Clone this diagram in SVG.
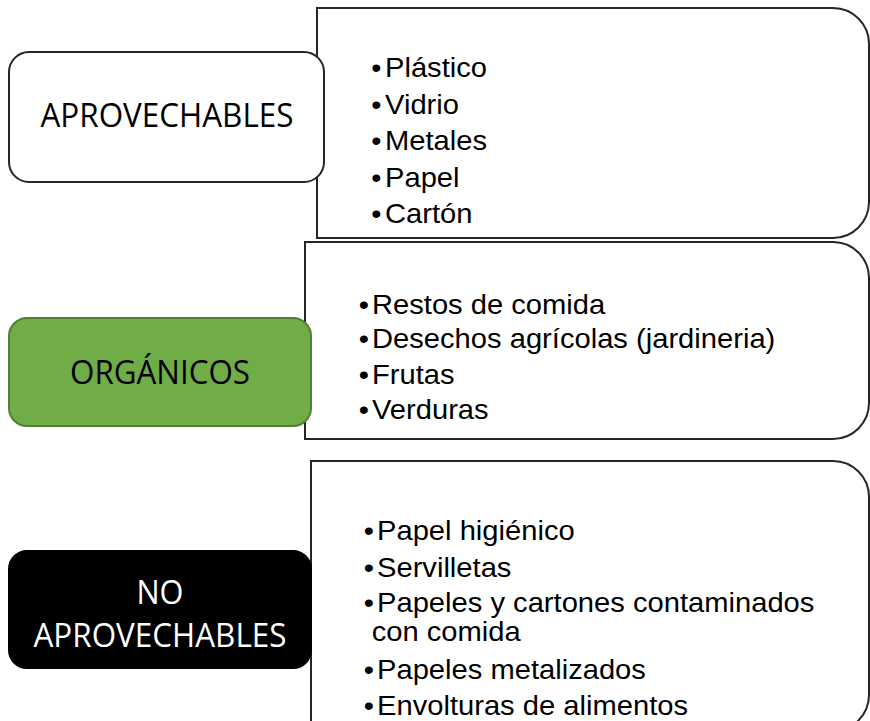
<svg xmlns="http://www.w3.org/2000/svg" width="870" height="721" viewBox="0 0 870 721">
<style>
.list{fill:#fff;stroke:#262626;stroke-width:2}
.lbl{stroke-width:2}
.lt{font-family:"Open Sans","Liberation Sans",sans-serif;font-size:32px;text-anchor:middle}
.it{font-family:"Liberation Sans",Arial,sans-serif;font-size:27.5px;fill:#000}
</style>
<g id="connectors"></g>
<g id="list1">
<path class="list" d="M317 8 H833 A36 36 0 0 1 869 44 V202 A36 36 0 0 1 833 238 H317 Z"/>
<g transform="translate(385,0) scale(1.06,1)">
<text class="it" x="-13" y="77.5">•</text><text class="it" x="0" y="77.5">Plástico</text>
<text class="it" x="-13" y="114">•</text><text class="it" x="0" y="114">Vidrio</text>
<text class="it" x="-13" y="150.5">•</text><text class="it" x="0" y="150.5">Metales</text>
<text class="it" x="-13" y="187">•</text><text class="it" x="0" y="187">Papel</text>
<text class="it" x="-13" y="223.5">•</text><text class="it" x="0" y="223.5">Cartón</text>
</g>
</g>
<g id="list2">
<path class="list" d="M305 242 H833 A36 36 0 0 1 869 278 V403 A36 36 0 0 1 833 439 H305 Z"/>
<g transform="translate(372,0) scale(1.06,1)">
<text class="it" x="-12.5" y="314">•</text><text class="it" x="0" y="314">Restos de comida</text>
<text class="it" x="-12.5" y="348.5">•</text><text class="it" x="0" y="348.5">Desechos agrícolas (jardineria)</text>
<text class="it" x="-12.5" y="384">•</text><text class="it" x="0" y="384">Frutas</text>
<text class="it" x="-12.5" y="419">•</text><text class="it" x="0" y="419">Verduras</text>
</g>
</g>
<g id="list3">
<path class="list" d="M311 461 H833 A36 36 0 0 1 869 497 V695 A36 36 0 0 1 833 731 H311 Z"/>
<g transform="translate(377,0) scale(1.06,1)">
<text class="it" x="-12.5" y="540">•</text><text class="it" x="0" y="540">Papel higiénico</text>
<text class="it" x="-12.5" y="577">•</text><text class="it" x="0" y="577">Servilletas</text>
<text class="it" x="-12.5" y="612">•</text><text class="it" x="0" y="612">Papeles y cartones contaminados</text>
<text class="it" x="-5" y="641">con comida</text>
<text class="it" x="-12.5" y="679">•</text><text class="it" x="0" y="679">Papeles metalizados</text>
<text class="it" x="-12.5" y="715">•</text><text class="it" x="0" y="715">Envolturas de alimentos</text>
</g>
</g>
<g id="aprovechables">
<rect class="lbl" x="9" y="52" width="315" height="130" rx="20" fill="#fff" stroke="#262626"/>
<text class="lt" x="167" y="127" fill="#000" textLength="253" lengthAdjust="spacingAndGlyphs">APROVECHABLES</text>
</g>
<g id="organicos">
<rect class="lbl" x="9" y="318" width="302" height="108" rx="18" fill="#70AD47" stroke="#507E32" stroke-width="1.5"/>
<text class="lt" x="160" y="384" fill="#000" textLength="180" lengthAdjust="spacingAndGlyphs">ORGÁNICOS</text>
</g>
<g id="noaprovechables">
<rect class="lbl" x="9" y="551" width="302" height="117" rx="18" fill="#000" stroke="#000"/>
<text class="lt" x="160" y="604" fill="#fff" textLength="47" lengthAdjust="spacingAndGlyphs">NO</text>
<text class="lt" x="160" y="647" fill="#fff" textLength="253" lengthAdjust="spacingAndGlyphs">APROVECHABLES</text>
</g>
</svg>
